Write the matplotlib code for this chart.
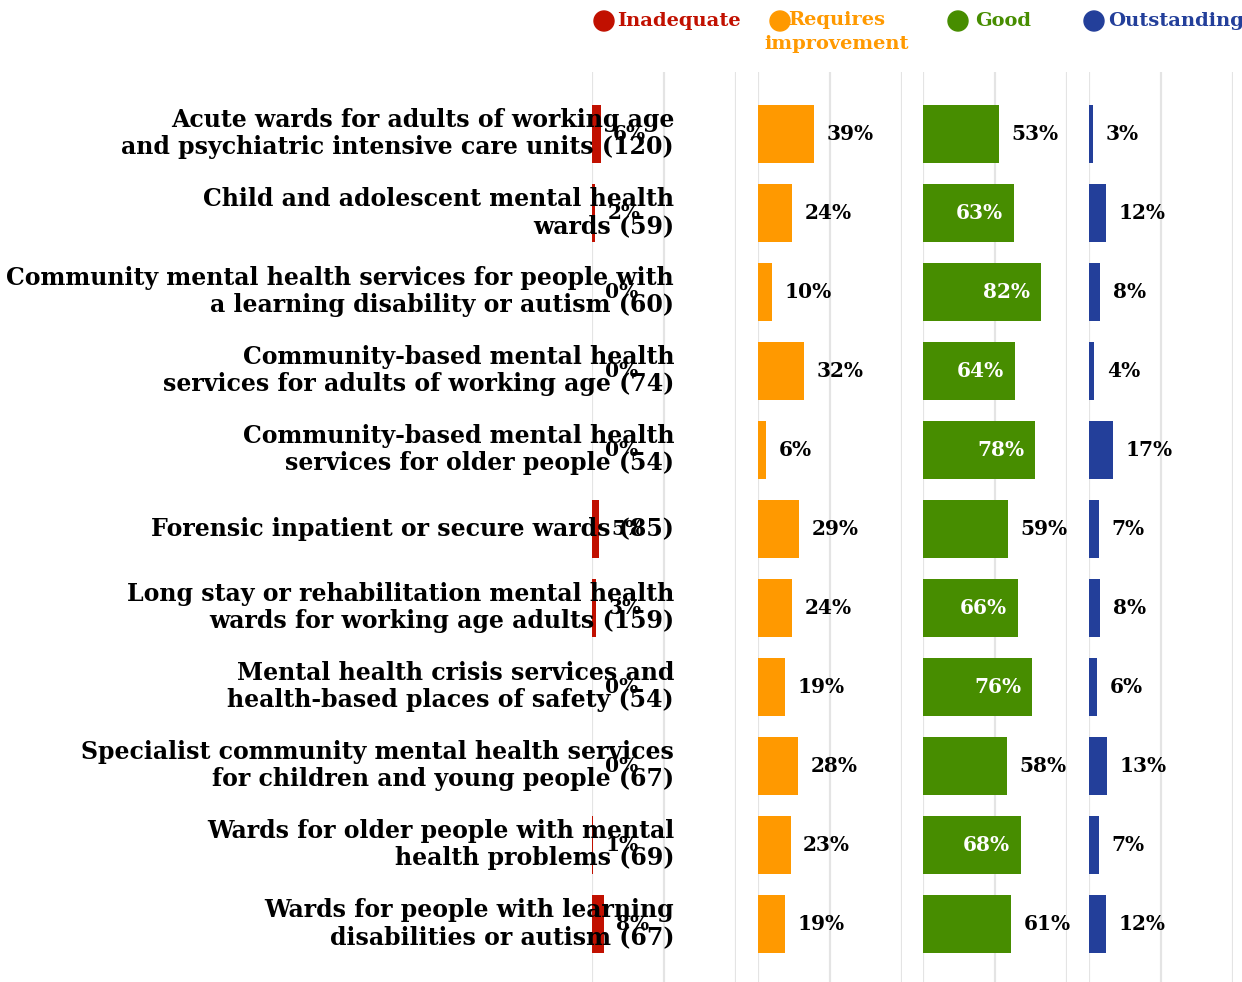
import matplotlib
matplotlib.use("Agg")
import matplotlib.pyplot as plt
from matplotlib.patches import Circle

# Dados
categorias = [
    "Acute wards for adults of working age\nand psychiatric intensive care units (120)",
    "Child and adolescent mental health\nwards (59)",
    "Community mental health services for people with\na learning disability or autism (60)",
    "Community-based mental health\nservices for adults of working age (74)",
    "Community-based mental health\nservices for older people (54)",
    "Forensic inpatient or secure wards (85)",
    "Long stay or rehabilitation mental health\nwards for working age adults (159)",
    "Mental health crisis services and\nhealth-based places of safety (54)",
    "Specialist community mental health services\nfor children and young people (67)",
    "Wards for older people with mental\nhealth problems (69)",
    "Wards for people with learning\ndisabilities or autism (67)",
]
inadequate = [6, 2, 0, 0, 0, 5, 3, 0, 0, 1, 8]
requires_improvement = [39, 24, 10, 32, 6, 29, 24, 19, 28, 23, 19]
good = [53, 63, 82, 64, 78, 59, 66, 76, 58, 68, 61]
outstanding = [3, 12, 8, 4, 17, 7, 8, 6, 13, 7, 12]

series_names = ["Inadequate", "Requires\nimprovement", "Good", "Outstanding"]
series_values = [inadequate, requires_improvement, good, outstanding]
cores = ["#C11000", "#FF9900", "#478D00", "#233F9A"]

W, H = 1242, 982
fig = plt.figure(figsize=(W / 100, H / 100), dpi=100)
plt.rcParams['font.family'] = ['DejaVu Serif']

top_px = 72
n = len(categorias)
axes = []
for k, (vals, cor) in enumerate(zip(series_values, cores)):
    left_px = 592 + 165.5 * k
    ax = fig.add_axes([left_px / W, 0, 144 / W, (H - top_px) / H])
    for g in (0, 50, 100):
        ax.axvline(g, color="#e4e4e4", lw=1.6, zorder=0)
    ys = list(range(n))
    ax.barh(ys, vals, height=0.734, color=cor, zorder=2)
    for y, v in zip(ys, vals):
        if k == 2 and v > 62:
            ax.annotate(f"{v}%", (v, y), xytext=(-8, 0), textcoords="offset points",
                        ha="right", va="center", color="white", fontsize=14.5,
                        fontweight="bold", zorder=3)
        else:
            ax.annotate(f"{v}%", (v, y), xytext=(9, 0), textcoords="offset points",
                        ha="left", va="center", color="black", fontsize=14.5,
                        fontweight="bold", zorder=3)
    ax.set_xlim(0, 100)
    ax.set_ylim(n - 1 + 0.74, -0.78)
    ax.axis("off")
    axes.append(ax)

# Rotulos das categorias
for i, cat in enumerate(categorias):
    axes[0].text(57, i, cat, ha="right", va="center", fontsize=17,
                 fontweight="bold", color="black", multialignment="right",
                 linespacing=1.15, zorder=5)

# Legenda no topo
leg_circ = [604, 780, 958, 1094]
leg_text = [617, 837, 975, 1108]
for name, cor, cx, tx in zip(series_names, cores, leg_circ, leg_text):
    fig.patches.append(Circle((cx, H - 21), 10, transform=None, color=cor))
    if "\n" in name:
        fig.text(tx / W, 1 - 11 / H, name, ha="center", va="top", color=cor,
                 fontsize=14, fontweight="bold", multialignment="center", linespacing=1.4)
    else:
        fig.text(tx / W, 1 - 21 / H, name, ha="left", va="center", color=cor,
                 fontsize=14, fontweight="bold")

fig.savefig("out.png", dpi=100)
